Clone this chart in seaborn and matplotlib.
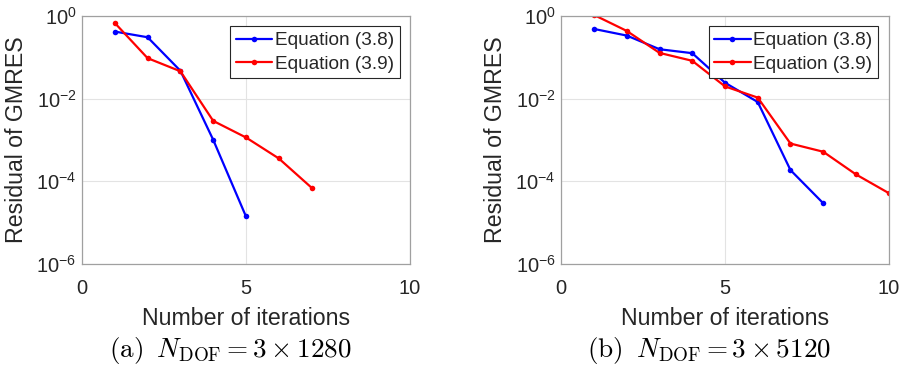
import numpy as np
import pandas as pd
import matplotlib
matplotlib.use("Agg")
import matplotlib.pyplot as plt
import seaborn as sns

# ---- data ----
iters_a_38 = [1, 2, 3, 4, 5]
res_a_38 = [0.42, 0.306, 0.0473, 1.01e-3, 1.41e-5]
iters_a_39 = [1, 2, 3, 4, 5, 6, 7]
res_a_39 = [0.678, 0.0955, 0.046, 2.9e-3, 1.15e-3, 3.58e-4, 7.0e-5]

iters_b_38 = [1, 2, 3, 4, 5, 6, 7, 8]
res_b_38 = [0.486, 0.336, 0.157, 0.126, 0.0243, 8.3e-3, 1.87e-4, 2.95e-5]
iters_b_39 = [1, 2, 3, 4, 5, 6, 7, 8, 9, 10]
res_b_39 = [1.06, 0.435, 0.128, 0.0824, 0.0198, 0.0106, 8.2e-4, 5.2e-4, 1.47e-4, 5.2e-5]

labels = ["Equation (3.8)", "Equation (3.9)"]
captions = [r"$\mathrm{(a)}\;\; N_{\mathrm{DOF}} = 3\times 1280$",
            r"$\mathrm{(b)}\;\; N_{\mathrm{DOF}} = 3\times 5120$"]
xlabel = "Number of iterations"
ylabel = "Residual of GMRES"
xticks = [0, 5, 10]
yticks = [1e-6, 1e-4, 1e-2, 1e0]

sns.set_style("white")
plt.rcParams["font.family"] = ["Liberation Sans", "DejaVu Sans"]

def make_df(x1, y1, x2, y2):
    return pd.DataFrame({
        "iter": list(x1) + list(x2),
        "res": list(y1) + list(y2),
        "method": [labels[0]] * len(x1) + [labels[1]] * len(x2),
    })

dfs = [make_df(iters_a_38, res_a_38, iters_a_39, res_a_39),
       make_df(iters_b_38, res_b_38, iters_b_39, res_b_39)]

fig = plt.figure(figsize=(9.02, 3.68), dpi=100)
positions = [[82 / 902, 1 - 264 / 368, 328 / 902, 248 / 368],
             [561.3 / 902, 1 - 264 / 368, 327.4 / 902, 248 / 368]]
caption_x = [230 / 902, 709 / 902]

palette = {labels[0]: "#0000ff", labels[1]: "#ff0000"}

for i in range(2):
    ax = fig.add_axes(positions[i])
    sns.lineplot(data=dfs[i], x="iter", y="res", hue="method", palette=palette,
                 marker="o", markersize=4, markeredgewidth=0, linewidth=1.6,
                 ax=ax, legend=True)
    ax.set_yscale("log")
    ax.set_xlim(0, 10)
    ax.set_ylim(1e-6, 1)
    ax.set_xticks(xticks)
    ax.set_yticks(yticks)
    ax.minorticks_off()
    ax.yaxis.set_minor_locator(matplotlib.ticker.NullLocator())
    ax.tick_params(length=0, labelsize=14.5, colors="#262626")
    ax.tick_params(axis="y", pad=4)
    ax.tick_params(axis="x", pad=11)
    ax.grid(True, color="#e3e3e3", linewidth=0.8)
    ax.set_axisbelow(True)
    for s in ax.spines.values():
        s.set_color("#a0a0a0")
        s.set_linewidth(0.9)
    ax.set_xlabel(xlabel, fontsize=16.7, color="#262626")
    ax.set_ylabel(ylabel, fontsize=16.7, color="#262626")
    ax.xaxis.set_label_coords(0.5, -0.173)
    ax.yaxis.set_label_coords(-0.165, 0.5)
    handles, labs = ax.get_legend_handles_labels()
    leg = ax.legend(handles, labs, loc="upper right", fontsize=13.7,
                    frameon=True, fancybox=False, framealpha=1,
                    edgecolor="#262626", borderaxespad=0.55,
                    handlelength=1.9, handletextpad=0.15,
                    borderpad=0.3, labelspacing=0.3)
    leg.get_frame().set_linewidth(0.8)
    fig.text(caption_x[i], 1 - 350 / 368, captions[i], ha="center", va="center",
             fontsize=19.5, math_fontfamily="cm", color="black")

fig.savefig("out.png", dpi=100)
